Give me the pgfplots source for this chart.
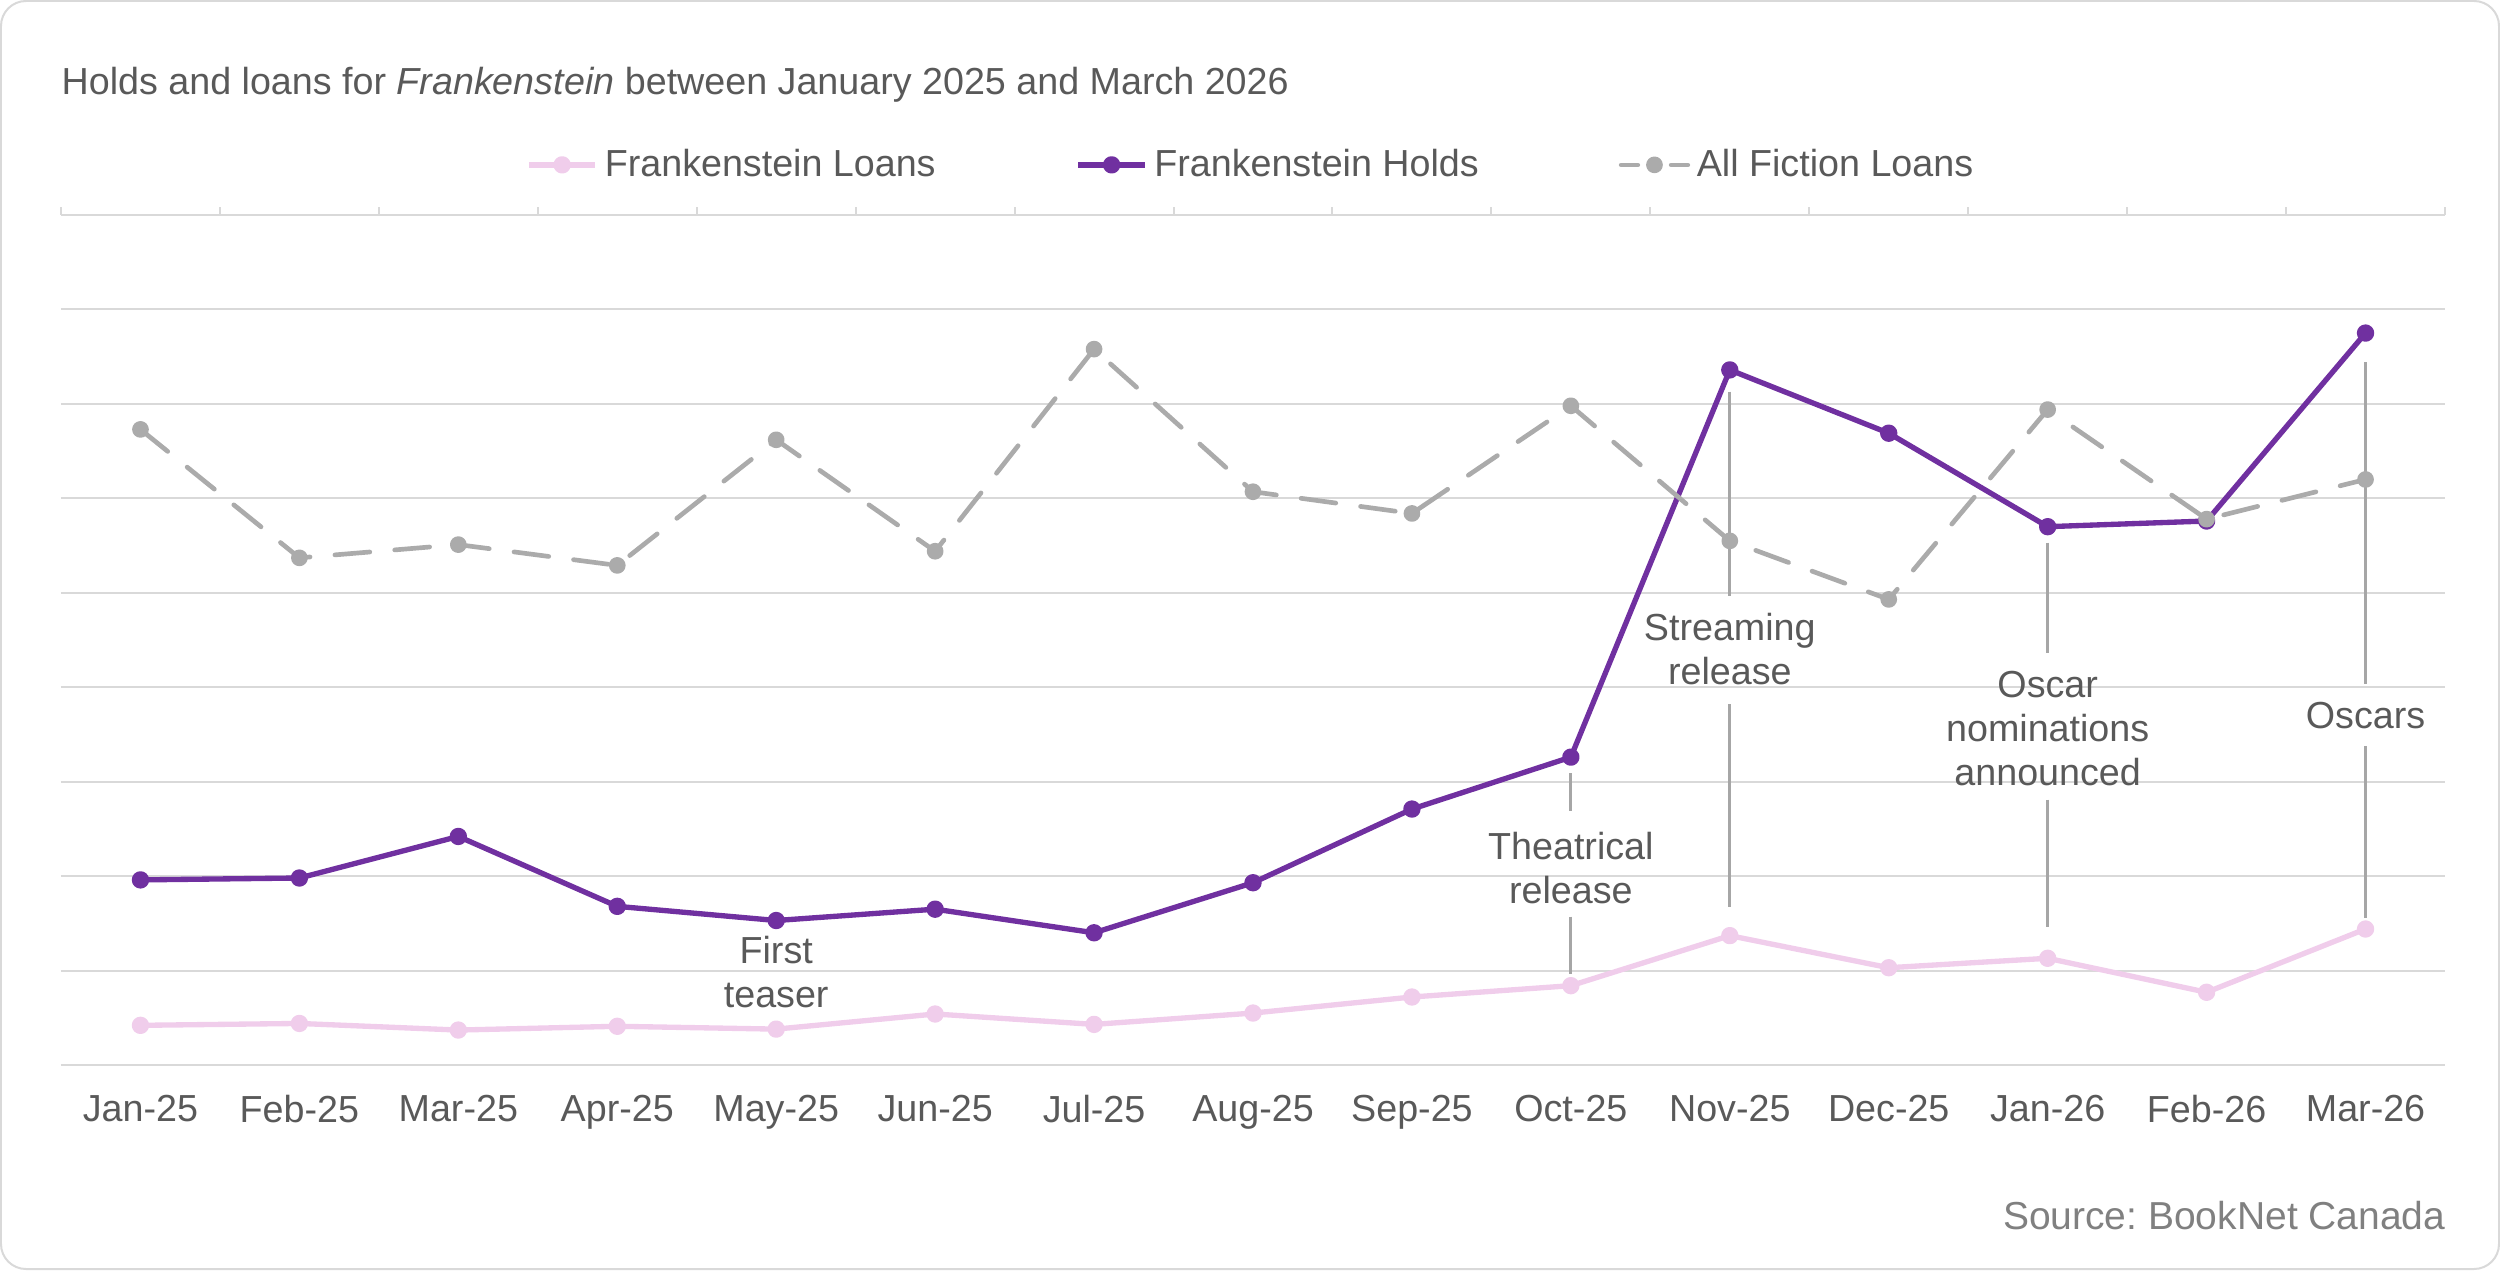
\documentclass[border=0pt]{standalone}
\usepackage{fontspec}
\setmainfont{Liberation Sans}
\usepackage{pgfplots}
\pgfplotsset{compat=1.18}
\definecolor{txt}{HTML}{595959}
\definecolor{src}{HTML}{808080}
\definecolor{gridc}{HTML}{D9D9D9}
\definecolor{holds}{HTML}{7030A0}
\definecolor{loans}{HTML}{F0CDEB}
\definecolor{fic}{HTML}{ABABAB}
\definecolor{leader}{HTML}{A6A6A6}
\newcommand\ff{\fontsize{11.3}{13.2}\selectfont}
\frenchspacing

\begin{document}
\begin{tikzpicture}
\draw[gridc, line width=0.6pt, rounded corners=7.5pt] (0.3pt,0.3pt) rectangle (749.7pt,380.7pt);
\node[anchor=base west, text=txt, inner sep=0pt, font=\ff] at (18.3pt,352.5pt) {Holds and loans for \textit{Frankenstein} between January 2025 and March 2026};
\node[anchor=base east, text=src, inner sep=0pt, font=\fontsize{11.7}{14}\selectfont] at (733.8pt,12.3pt) {Source: BookNet Canada};
\begin{axis}[
  at={(18.3pt,61.5pt)}, anchor=south west,
  scale only axis, width=715.2pt, height=255pt,
  xmin=-0.5, xmax=14.5, ymin=0, ymax=9,
  axis line style={draw=none},
  xtick={0,...,14},
  xticklabels={Jan-25,Feb-25,Mar-25,Apr-25,May-25,Jun-25,Jul-25,Aug-25,Sep-25,Oct-25,Nov-25,Dec-25,Jan-26,Feb-26,Mar-26},
  minor xtick={-0.5,0.5,...,14.5},
  xtick pos=right, xticklabel pos=left,
  tick align=outside,
  major tick length=0pt, minor tick length=2.4pt,
  minor tick style={draw=gridc, line width=0.6pt},
  major tick style={draw=none},
  xticklabel style={text=txt, font=\ff, inner sep=0pt, yshift=-9pt},
  ytick={0,...,9}, yticklabels={},
  ymajorgrids, major grid style={draw=gridc, line width=0.6pt},
  clip=false,
  legend style={at={(0.5,1.059)}, anchor=center, draw=none, fill=none,
    legend columns=3, font=\ff, text=txt,
    /tikz/every even column/.append style={column sep=40pt}},
  legend image code/.code={\draw[#1, mark repeat=2, mark phase=2] plot coordinates {(0pt,0pt) (10pt,0pt) (20pt,0pt)};},
  every axis plot/.append style={mark=*, line join=round},
]
\addplot[draw=loans, line width=1.6pt, mark options={fill=loans, draw=loans, scale=0.9}] coordinates {
 (0,0.42) (1,0.44) (2,0.37) (3,0.41) (4,0.38) (5,0.54) (6,0.43) (7,0.55) (8,0.72) (9,0.84) (10,1.37) (11,1.03) (12,1.13) (13,0.77) (14,1.44)};
\addlegendentry{Frankenstein Loans}
\addplot[draw=holds, line width=1.6pt, mark options={fill=holds, draw=holds, scale=0.9}] coordinates {
 (0,1.96) (1,1.98) (2,2.42) (3,1.68) (4,1.53) (5,1.65) (6,1.40) (7,1.93) (8,2.71) (9,3.26) (10,7.36) (11,6.69) (12,5.70) (13,5.76) (14,7.75)};
\addlegendentry{Frankenstein Holds}
\addplot[draw=fic, line width=1.4pt, dash pattern=on 10.5pt off 7.5pt, line cap=round, mark options={fill=fic, draw=fic, solid, scale=0.9},
  legend image post style={dash pattern=on 5pt off 10pt}] coordinates {
 (0,6.73) (1,5.37) (2,5.51) (3,5.29) (4,6.62) (5,5.44) (6,7.58) (7,6.07) (8,5.84) (9,6.98) (10,5.55) (11,4.93) (12,6.94) (13,5.78) (14,6.20)};
\addlegendentry{All Fiction Loans}
% annotations
\node[align=center, text=txt, font=\ff, inner sep=0pt] at (axis cs:4,0.98) {First\\teaser};
\node[align=center, text=txt, font=\ff, inner sep=0pt] at (axis cs:9,2.09) {Theatrical\\release};
\node[align=center, text=txt, font=\ff, inner sep=0pt] at (axis cs:10,4.40) {Streaming\\release};
\node[align=center, text=txt, font=\ff, inner sep=0pt] at (axis cs:12,3.56) {Oscar\\nominations\\announced};
\node[align=center, text=txt, font=\ff, inner sep=0pt] at (axis cs:14,3.70) {Oscars};
\draw[leader, line width=0.9pt] (axis cs:9,3.09) -- (axis cs:9,2.69);
\draw[leader, line width=0.9pt] (axis cs:9,1.57) -- (axis cs:9,0.96);
\draw[leader, line width=0.9pt] (axis cs:10,7.13) -- (axis cs:10,4.97);
\draw[leader, line width=0.9pt] (axis cs:10,3.82) -- (axis cs:10,1.67);
\draw[leader, line width=0.9pt] (axis cs:12,5.53) -- (axis cs:12,4.36);
\draw[leader, line width=0.9pt] (axis cs:12,2.81) -- (axis cs:12,1.46);
\draw[leader, line width=0.9pt] (axis cs:14,7.44) -- (axis cs:14,4.03);
\draw[leader, line width=0.9pt] (axis cs:14,3.38) -- (axis cs:14,1.56);
\end{axis}
\end{tikzpicture}
\end{document}
